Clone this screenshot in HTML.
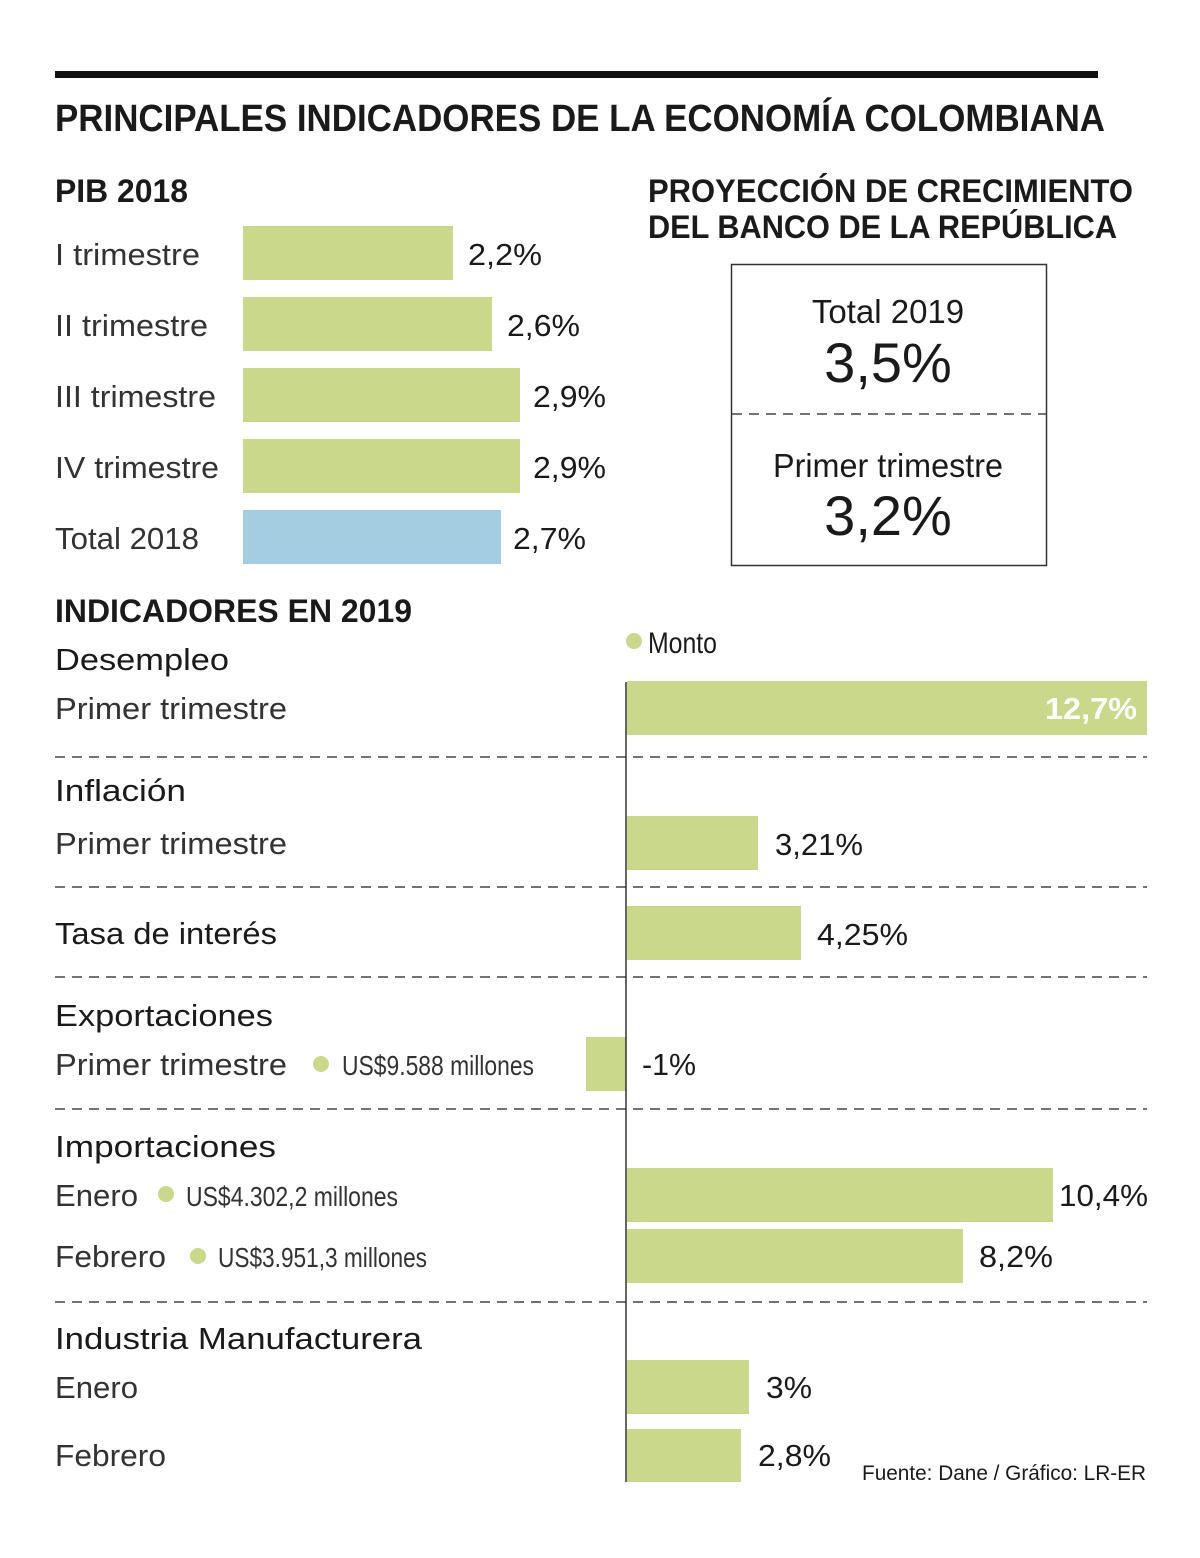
<!DOCTYPE html>
<html><head><meta charset="utf-8"><style>
html,body{margin:0;padding:0;background:#fff;}
svg{display:block;}
text{font-family:"Liberation Sans",sans-serif;fill:#1a1a1a;}
.b{font-weight:bold;}
.l{font-size:31px;fill:#333;}
.v{font-size:31px;}
.s{font-size:28px;fill:#333;}
</style></head><body>
<svg width="1200" height="1558" viewBox="0 0 1200 1558" xmlns="http://www.w3.org/2000/svg">
<rect x="55" y="71" width="1043" height="7" fill="#111"/>
<text x="55" y="131" class="b" font-size="38" textLength="1050" lengthAdjust="spacingAndGlyphs">PRINCIPALES INDICADORES DE LA ECONOMÍA COLOMBIANA</text>
<text x="55" y="202" class="b" font-size="32" textLength="133" lengthAdjust="spacingAndGlyphs">PIB 2018</text>
<g fill="#c9d88b">
<rect x="243" y="226" width="210" height="54"/>
<rect x="243" y="297" width="249" height="54"/>
<rect x="243" y="368" width="277" height="54"/>
<rect x="243" y="439" width="277" height="54"/>
</g>
<rect x="243" y="510" width="258" height="54" fill="#a4cde2"/>
<text x="55" y="265" class="l" textLength="145" lengthAdjust="spacingAndGlyphs">I trimestre</text>
<text x="55" y="336" class="l" textLength="153" lengthAdjust="spacingAndGlyphs">II trimestre</text>
<text x="55" y="407" class="l" textLength="161" lengthAdjust="spacingAndGlyphs">III trimestre</text>
<text x="55" y="478" class="l" textLength="164" lengthAdjust="spacingAndGlyphs">IV trimestre</text>
<text x="55" y="549" class="l" textLength="144" lengthAdjust="spacingAndGlyphs">Total 2018</text>
<text x="468" y="265" class="v" textLength="74" lengthAdjust="spacingAndGlyphs">2,2%</text>
<text x="507" y="336" class="v" textLength="73" lengthAdjust="spacingAndGlyphs">2,6%</text>
<text x="533" y="407" class="v" textLength="73" lengthAdjust="spacingAndGlyphs">2,9%</text>
<text x="533" y="478" class="v" textLength="73" lengthAdjust="spacingAndGlyphs">2,9%</text>
<text x="513" y="549" class="v" textLength="73" lengthAdjust="spacingAndGlyphs">2,7%</text>
<text x="648" y="202" class="b" font-size="32" textLength="485" lengthAdjust="spacingAndGlyphs">PROYECCIÓN DE CRECIMIENTO</text>
<text x="648" y="238" class="b" font-size="32" textLength="469" lengthAdjust="spacingAndGlyphs">DEL BANCO DE LA REPÚBLICA</text>
<rect x="731.5" y="264.5" width="315" height="301" fill="none" stroke="#333" stroke-width="1.5"/>
<line x1="732" y1="414" x2="1046" y2="414" stroke="#444" stroke-width="1.5" stroke-dasharray="10,7"/>
<text x="888" y="323" text-anchor="middle" font-size="33" fill="#333">Total 2019</text>
<text x="888" y="382" text-anchor="middle" font-size="56">3,5%</text>
<text x="888" y="477" text-anchor="middle" font-size="33" fill="#333" textLength="230" lengthAdjust="spacingAndGlyphs">Primer trimestre</text>
<text x="888" y="535" text-anchor="middle" font-size="56">3,2%</text>
<text x="55" y="622" class="b" font-size="32" textLength="357" lengthAdjust="spacingAndGlyphs">INDICADORES EN 2019</text>
<circle cx="634" cy="641" r="8" fill="#c9d88b"/>
<text x="648" y="653" font-size="30" fill="#333" textLength="69" lengthAdjust="spacingAndGlyphs">Monto</text>
<g stroke="#444" stroke-width="1.5" stroke-dasharray="10,7">
<line x1="55" y1="757" x2="1147" y2="757"/>
<line x1="55" y1="887" x2="1147" y2="887"/>
<line x1="55" y1="977" x2="1147" y2="977"/>
<line x1="55" y1="1109" x2="1147" y2="1109"/>
<line x1="55" y1="1302" x2="1147" y2="1302"/>
</g>
<g fill="#c9d88b">
<rect x="627" y="681" width="520" height="54"/>
<rect x="627" y="816" width="131" height="54"/>
<rect x="627" y="906" width="174" height="54"/>
<rect x="586" y="1037" width="40" height="54"/>
<rect x="627" y="1168" width="426" height="54"/>
<rect x="627" y="1229" width="336" height="54"/>
<rect x="627" y="1360" width="122" height="54"/>
<rect x="627" y="1429" width="114" height="53"/>
</g>
<line x1="626" y1="682" x2="626" y2="1482" stroke="#333" stroke-width="1.5"/>
<text x="55" y="670" class="v" textLength="174" lengthAdjust="spacingAndGlyphs">Desempleo</text>
<text x="55" y="719" class="l" textLength="232" lengthAdjust="spacingAndGlyphs">Primer trimestre</text>
<text x="1137" y="719" text-anchor="end" class="v b" style="fill:#fff" textLength="92" lengthAdjust="spacingAndGlyphs">12,7%</text>
<text x="55" y="801" class="v" textLength="131" lengthAdjust="spacingAndGlyphs">Inflación</text>
<text x="55" y="854" class="l" textLength="232" lengthAdjust="spacingAndGlyphs">Primer trimestre</text>
<text x="775" y="855" class="v" textLength="88" lengthAdjust="spacingAndGlyphs">3,21%</text>
<text x="55" y="944" class="v" textLength="222" lengthAdjust="spacingAndGlyphs">Tasa de interés</text>
<text x="817" y="945" class="v" textLength="91" lengthAdjust="spacingAndGlyphs">4,25%</text>
<text x="55" y="1026" class="v" textLength="218" lengthAdjust="spacingAndGlyphs">Exportaciones</text>
<text x="55" y="1075" class="l" textLength="232" lengthAdjust="spacingAndGlyphs">Primer trimestre</text>
<circle cx="321" cy="1064" r="8" fill="#c9d88b"/>
<text x="342" y="1075" class="s" textLength="192" lengthAdjust="spacingAndGlyphs">US$9.588 millones</text>
<text x="642" y="1075" class="v" textLength="54" lengthAdjust="spacingAndGlyphs">-1%</text>
<text x="55" y="1157" class="v" textLength="221" lengthAdjust="spacingAndGlyphs">Importaciones</text>
<text x="55" y="1206" class="l" textLength="83" lengthAdjust="spacingAndGlyphs">Enero</text>
<circle cx="166" cy="1194" r="8" fill="#c9d88b"/>
<text x="186" y="1206" class="s" textLength="212" lengthAdjust="spacingAndGlyphs">US$4.302,2 millones</text>
<text x="1059" y="1206" class="v" textLength="89" lengthAdjust="spacingAndGlyphs">10,4%</text>
<text x="55" y="1267" class="l" textLength="111" lengthAdjust="spacingAndGlyphs">Febrero</text>
<circle cx="198" cy="1256" r="8" fill="#c9d88b"/>
<text x="218" y="1267" class="s" textLength="209" lengthAdjust="spacingAndGlyphs">US$3.951,3 millones</text>
<text x="979" y="1267" class="v" textLength="74" lengthAdjust="spacingAndGlyphs">8,2%</text>
<text x="55" y="1349" class="v" textLength="367" lengthAdjust="spacingAndGlyphs">Industria Manufacturera</text>
<text x="55" y="1398" class="l" textLength="83" lengthAdjust="spacingAndGlyphs">Enero</text>
<text x="766" y="1398" class="v" textLength="46" lengthAdjust="spacingAndGlyphs">3%</text>
<text x="55" y="1466" class="l" textLength="111" lengthAdjust="spacingAndGlyphs">Febrero</text>
<text x="758" y="1466" class="v" textLength="73" lengthAdjust="spacingAndGlyphs">2,8%</text>
<text x="862" y="1480" font-size="21" fill="#333" textLength="284" lengthAdjust="spacingAndGlyphs">Fuente: Dane / Gráfico: LR-ER</text>
</svg>
</body></html>
